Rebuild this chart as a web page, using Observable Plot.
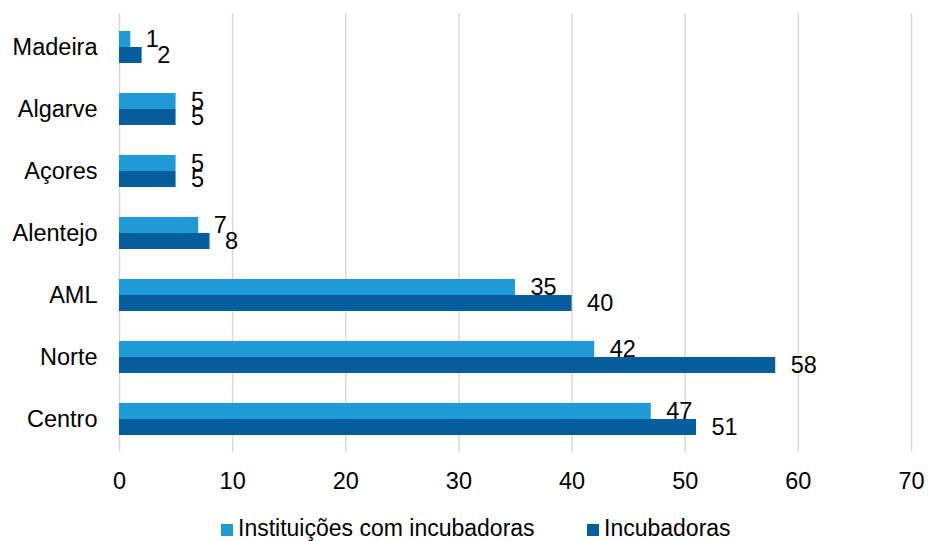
<!DOCTYPE html>
<html>
<head>
<meta charset="utf-8">
<script src="https://cdn.jsdelivr.net/npm/d3@7"></script>
<script src="https://cdn.jsdelivr.net/npm/@observablehq/plot@0.6"></script>
<style>
  body { margin: 0; background: #fff; font-family: "Liberation Sans", Arial, sans-serif; overflow: hidden; }
  #chart svg { display: block; }
  #legend { position: relative; height: 25px; width: 928px; font-size: 23px; line-height: 20px; color: #000; }
  .item { position: absolute; top: 2px; height: 20px; display: flex; align-items: center; white-space: nowrap; }
  .sw { width: 12px; height: 12px; margin-right: 5px; margin-top: 3px; }
</style>
</head>
<body>
<div id="chart"></div>
<div id="legend"></div>
<script>
const regions = ["Madeira", "Algarve", "Açores", "Alentejo", "AML", "Norte", "Centro"];
const instituicoes = [1, 5, 5, 7, 35, 42, 47];
const incubadoras = [2, 5, 5, 8, 40, 58, 51];
const xTicks = [0, 10, 20, 30, 40, 50, 60, 70];
const seriesNames = ["Instituições com incubadoras", "Incubadoras"];
const colors = ["#1f9ad6", "#035e9b"];

const light = regions.map((r, i) => ({region: r, value: instituicoes[i]}));
const dark = regions.map((r, i) => ({region: r, value: incubadoras[i]}));

const plot = Plot.plot({
  width: 928,
  height: 516,
  marginLeft: 119,
  marginRight: 17,
  marginTop: 13,
  marginBottom: 64,
  style: {fontFamily: "'Liberation Sans', Arial, sans-serif", fontSize: "23.5px", color: "#000", background: "#fff"},
  x: {domain: [0, 70], ticks: xTicks, tickSize: 0, tickPadding: 20, label: null},
  y: {domain: regions, paddingInner: 0.49, paddingOuter: 0.245, tickSize: 0, tickPadding: 22, label: null},
  marks: [
    Plot.ruleX(xTicks, {stroke: "#d9d9d9", strokeWidth: 1.5}),
    Plot.barX(light, {y: "region", x: "value", fill: colors[0], insetBottom: 16}),
    Plot.barX(dark, {y: "region", x: "value", fill: colors[1], insetTop: 16}),
    Plot.text(light, {y: "region", x: "value", text: d => String(d.value), dx: 15, dy: -8, textAnchor: "start", fill: "#000", fontSize: 23.5}),
    Plot.text(dark, {y: "region", x: "value", text: d => String(d.value), dx: 15, dy: 8, textAnchor: "start", fill: "#000", fontSize: 23.5})
  ]
});
document.getElementById("chart").appendChild(plot);

const legend = document.getElementById("legend");
const lefts = [221, 587];
seriesNames.forEach((name, i) => {
  const it = document.createElement("div");
  it.className = "item";
  it.style.left = lefts[i] + "px";
  const sw = document.createElement("span");
  sw.className = "sw";
  sw.style.background = colors[i];
  const tx = document.createElement("span");
  tx.textContent = name;
  it.appendChild(sw);
  it.appendChild(tx);
  legend.appendChild(it);
});
</script>
</body>
</html>
